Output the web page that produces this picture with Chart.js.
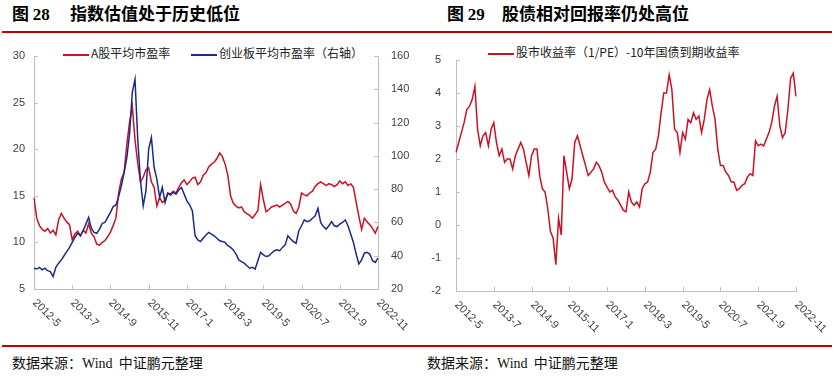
<!DOCTYPE html>
<html>
<head>
<meta charset="utf-8">
<script src="https://cdn.jsdelivr.net/npm/chart.js@4.4.1/dist/chart.umd.min.js"></script>
<style>
  body { margin:0; width:837px; height:379px; background:#fff; position:relative; overflow:hidden; font-family:"Noto Sans CJK SC", sans-serif; color:#000; }
  .title { position:absolute; top:2px; font-size:17px; font-weight:bold; line-height:22px; white-space:nowrap; }
  .num { font-family:"Liberation Serif", serif; }
  .rule { position:absolute; left:2px; width:830px; height:2px; background:#c00000; }
  .legend { position:absolute; top:45px; font-size:12px; line-height:16px; white-space:nowrap; color:#222; }
  .legend i { display:inline-block; width:26px; height:2px; vertical-align:middle; margin-right:2px; }
  .src { position:absolute; top:353px; font-size:14px; line-height:18px; white-space:nowrap; color:#111; }
  .src .w { font-family:"Liberation Serif", serif; }
  canvas { position:absolute; top:40px; }
</style>
</head>
<body>
<div class="title" style="left:12px">图 <span class="num">28</span></div>
<div class="title" style="left:70px">指数估值处于历史低位</div>
<div class="title" style="left:447px">图 <span class="num">29</span></div>
<div class="title" style="left:502px">股债相对回报率仍处高位</div>
<div class="rule" style="top:31px"></div>

<div class="legend" style="left:63px"><i style="background:#cc1122"></i>A股平均市盈率</div>
<div class="legend" style="left:191px"><i style="background:#1b2a8a"></i>创业板平均市盈率（右轴）</div>
<div class="legend" style="left:488px;top:44px"><i style="background:#cc1122"></i>股市收益率（1/PE）-10年国债到期收益率</div>

<canvas id="peChart" width="420" height="300" style="left:0"></canvas>
<canvas id="spreadChart" width="417" height="300" style="left:420px"></canvas>

<div class="rule" style="top:345px"></div>
<div class="src" style="left:12px">数据来源：<span class="w">Wind</span>&nbsp; 中证鹏元整理</div>
<div class="src" style="left:427px">数据来源：<span class="w">Wind</span>&nbsp; 中证鹏元整理</div>

<script>
// monthly categories, 2012-5 .. 2022-11
const months = [];
for (let i = 0; i < 127; i++) {
  const m = 4 + i;
  months.push(`${2012 + Math.floor(m / 12)}-${(m % 12) + 1}`);
}
const tickStep = 14; // a label every 14 months

// A股平均市盈率 (left axis)
const aSharePe = [
  14.8, 12.6, 11.8, 11.4, 11.2, 11.5, 11.0, 11.3, 10.8, 12.4,
  13.1, 12.6, 12.2, 11.9, 10.3, 10.9, 11.2, 10.7, 11.3, 11.0,
  12.0, 11.0, 10.6, 9.8, 9.7, 10.0, 10.2, 10.6, 11.1, 11.8,
  12.6, 15.3, 16.8, 17.5, 20.5, 22.9, 24.6, 21.0, 18.5, 16.5,
  17.0, 17.8, 18.0, 16.5, 15.9, 13.9, 14.8, 14.3, 14.5, 15.3,
  15.2, 15.5, 15.3, 15.9, 16.4, 16.7, 16.2, 16.5, 16.9, 17.0,
  16.2, 16.5, 17.2, 17.5, 18.1, 18.4, 18.6, 19.0, 19.6, 19.2,
  18.4, 17.2, 15.0, 14.2, 13.9, 13.7, 13.8, 13.3, 13.1, 12.9,
  12.6, 13.0, 13.4, 16.2, 14.6, 13.3, 13.5, 13.8, 13.9, 14.0,
  13.8, 14.0, 14.2, 14.4, 14.1, 13.4, 13.1, 13.8, 15.3, 15.1,
  15.0, 15.3, 15.5, 16.0, 16.3, 16.5, 16.3, 16.1, 16.3, 16.2,
  16.0, 16.2, 16.6, 16.3, 16.5, 16.1, 16.3, 15.9, 14.3, 12.8,
  11.4, 12.6, 12.2, 11.9, 11.5, 11.0, 11.7
];

// 创业板平均市盈率 (right axis)
const gemPe = [
  32.5, 32.0, 33.0, 31.5, 32.5, 31.0, 30.5, 27.5, 33.0, 35.5,
  37.5, 40.0, 42.5, 45.0, 48.0, 51.0, 53.5, 52.0, 55.0, 59.0,
  63.0, 56.5, 54.0, 53.5, 56.0, 59.5, 60.0, 63.0, 66.0, 69.5,
  70.5, 75.5, 82.0, 90.0, 99.0, 113.0, 138.0, 146.0, 110.0, 85.0,
  70.0, 79.0, 104.0, 111.0, 93.0, 86.0, 75.0, 81.0, 72.0, 77.5,
  76.5, 78.0, 77.0, 79.5, 81.0, 77.0, 73.0, 70.5, 67.0, 52.0,
  49.5, 48.5, 50.5, 52.5, 54.0, 53.0, 52.0, 50.5, 49.0, 48.5,
  48.0, 46.0, 45.0, 43.5, 41.0, 37.5, 36.5, 35.5, 34.0, 32.5,
  33.0, 32.0, 37.0, 42.0, 40.5, 39.5, 40.0, 41.5, 43.0, 43.5,
  43.0, 45.0, 46.5, 52.0, 50.0, 48.5, 47.5, 55.0, 58.0, 61.5,
  60.5, 61.0, 62.5, 64.0, 68.5, 60.0, 57.5, 56.0, 58.0, 60.5,
  58.0, 57.5, 59.0, 60.0, 61.5, 58.0, 53.0, 48.0, 41.0, 35.0,
  37.5, 41.5, 42.0, 41.0, 37.0, 36.0, 38.5
];

// 股市收益率(1/PE) - 10年国债到期收益率
const yieldSpread = [
  2.2, 2.5, 2.8, 3.1, 3.5, 3.6, 3.8, 4.2, 2.9, 2.4,
  2.7, 2.8, 2.4, 2.9, 3.1, 2.5, 2.1, 2.3, 1.9, 2.0,
  2.0, 1.7, 2.1, 2.3, 2.5, 2.3, 1.9, 1.5, 2.1, 2.3,
  2.3, 1.5, 1.1, 1.0, 0.5, -0.2, -0.4, -1.2, 0.2, -0.3,
  2.1, 1.6, 1.1, 1.4, 2.5, 2.7, 2.4, 2.1, 1.8, 1.5,
  1.6, 1.7, 1.9, 1.8, 1.6, 1.3, 1.15, 1.0, 1.05, 0.85,
  0.75, 0.6, 0.45, 0.4, 1.0, 0.7, 0.6, 0.7, 0.55, 1.1,
  1.25, 1.3, 1.6, 2.2, 2.3, 2.7, 3.4, 4.0, 4.0, 4.55,
  4.1, 2.9, 2.8, 2.2, 2.8, 2.6, 3.2, 3.1, 3.4, 3.2,
  3.3, 2.8, 3.2, 3.8, 4.1, 3.6, 3.2, 2.3, 1.8, 1.8,
  1.6, 1.5, 1.3, 1.3, 1.05, 1.1, 1.2, 1.25, 1.45, 1.55,
  1.5, 2.55, 2.4, 2.45, 2.4, 2.6, 2.8, 3.1, 3.6, 3.9,
  3.0, 2.65, 2.8, 3.5, 4.45, 4.6, 3.9
];

const red = '#cc1122';
const blue = '#1b2a8a';
const axisColor = '#bfbfbf';
const labelColor = '#404040';
const tickFont = { family: 'Liberation Sans', size: 11 };

// inward tick marks + slanted x labels (Chart.js only slants the other way)
const axisMarks = {
  id: 'axisMarks',
  afterDraw(chart) {
    const ctx = chart.ctx;
    const area = chart.chartArea;
    ctx.save();
    ctx.strokeStyle = axisColor;
    ctx.lineWidth = 1;
    Object.values(chart.scales).forEach(scale => {
      if (scale.axis !== 'y') return;
      const x0 = scale.position === 'left' ? area.left : area.right;
      const dir = scale.position === 'left' ? 1 : -1;
      scale.ticks.forEach(t => {
        const y = Math.round(scale.getPixelForValue(t.value)) + 0.5;
        ctx.beginPath();
        ctx.moveTo(x0, y);
        ctx.lineTo(x0 + dir * 4, y);
        ctx.stroke();
      });
    });
    const xs = chart.scales.x;
    ctx.font = '11px "Liberation Sans"';
    ctx.fillStyle = labelColor;
    ctx.textAlign = 'left';
    ctx.textBaseline = 'middle';
    months.forEach((m, i) => {
      if (i % tickStep) return;
      const x = Math.round(xs.getPixelForValue(i)) + 0.5;
      ctx.beginPath();
      ctx.moveTo(x, area.bottom);
      ctx.lineTo(x, area.bottom - 4);
      ctx.stroke();
      ctx.save();
      ctx.translate(x, area.bottom + 12);
      ctx.rotate(Math.PI / 4);
      ctx.fillText(m, 0, 0);
      ctx.restore();
    });
    ctx.restore();
  }
};

function xAxis(h) {
  return {
    type: 'category',
    grid: { display: false, drawTicks: false },
    border: { color: axisColor },
    ticks: { display: false },
    afterFit: s => { s.height = h; s.paddingLeft = 0; s.paddingRight = 0; }
  };
}

function yAxis(pos, min, max, step, w, pad) {
  return {
    position: pos,
    min: min,
    max: max,
    grid: { display: false, drawTicks: false },
    border: { color: axisColor },
    ticks: { stepSize: step, padding: pad, color: labelColor, font: tickFont },
    afterFit: s => { s.width = w; s.paddingTop = 0; s.paddingBottom = 0; }
  };
}

const common = {
  responsive: false,
  animation: false,
  plugins: { legend: { display: false }, tooltip: { enabled: false } },
  elements: { point: { radius: 0 }, line: { tension: 0 } }
};

new Chart(document.getElementById('peChart'), {
  type: 'line',
  data: {
    labels: months,
    datasets: [
      { data: gemPe, borderColor: blue, borderWidth: 1.5, yAxisID: 'y1' },
      { data: aSharePe, borderColor: red, borderWidth: 1.5, yAxisID: 'y' }
    ]
  },
  options: {
    ...common,
    layout: { padding: { top: 16, left: 0, right: 0, bottom: 0 } },
    scales: {
      x: xAxis(51),
      y: yAxis('left', 5, 30, 5, 34, 9),
      y1: yAxis('right', 20, 160, 20, 42, 13)
    }
  },
  plugins: [axisMarks]
});

new Chart(document.getElementById('spreadChart'), {
  type: 'line',
  data: {
    labels: months,
    datasets: [
      { data: yieldSpread, borderColor: red, borderWidth: 1.5 }
    ]
  },
  options: {
    ...common,
    layout: { padding: { top: 20, left: 0, right: 41, bottom: 0 } },
    scales: {
      x: xAxis(49),
      y: yAxis('left', -2, 5, 1, 36, 15)
    }
  },
  plugins: [axisMarks]
});
</script>
</body>
</html>
